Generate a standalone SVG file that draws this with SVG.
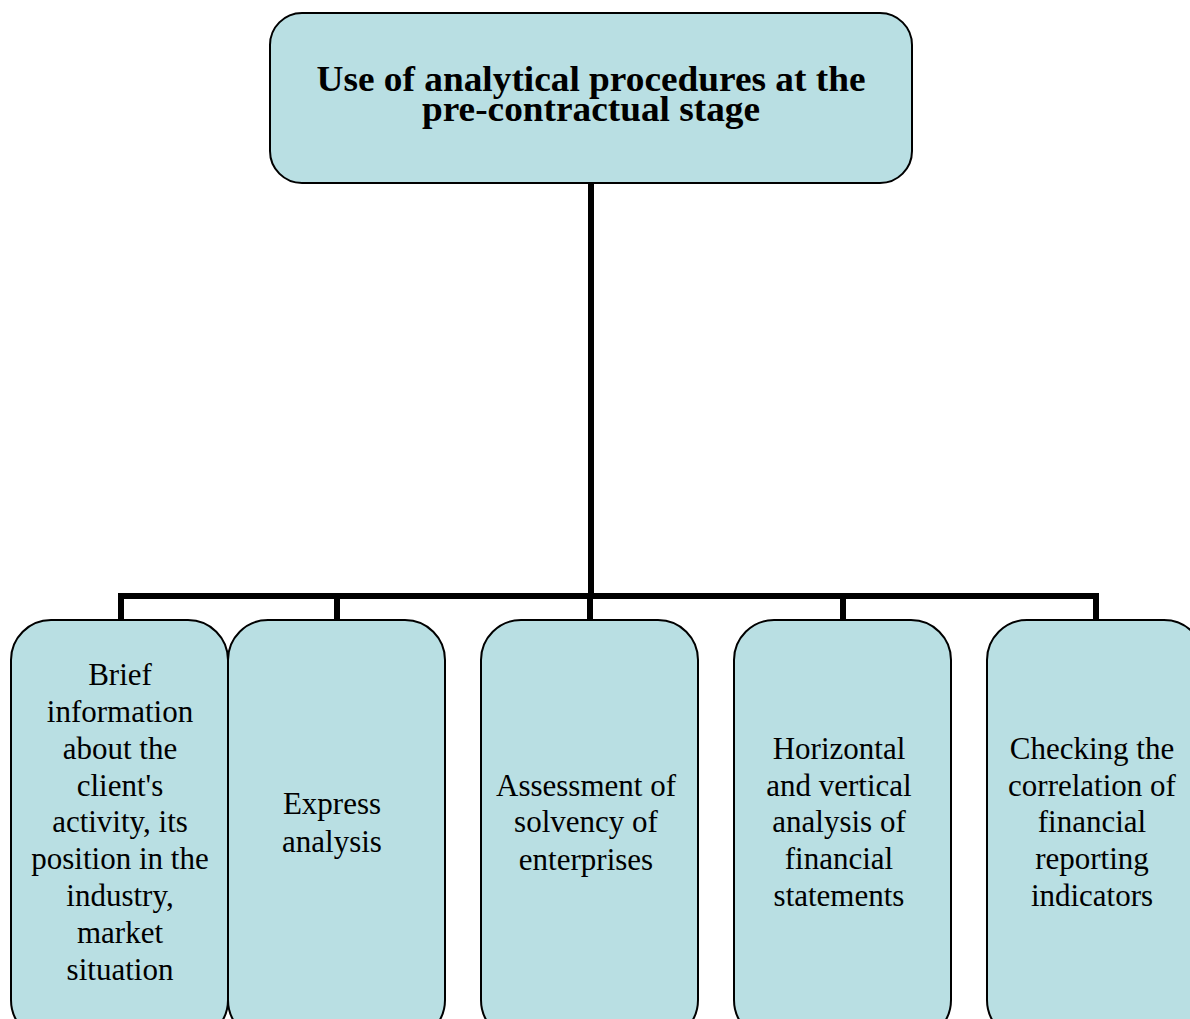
<svg xmlns="http://www.w3.org/2000/svg" width="1190" height="1019" viewBox="0 0 1190 1019">
<style>
.box{fill:#b9dfe3;stroke:#000;stroke-width:2}
.t{font-family:"Liberation Serif","Times New Roman",serif;font-size:31px;fill:#000;text-anchor:middle}
.h{font-family:"Liberation Serif","Times New Roman",serif;font-size:35px;font-weight:bold;fill:#000;text-anchor:middle}
.c{fill:none;stroke:#000;stroke-width:6;stroke-linecap:square}
</style>
<rect width="1190" height="1019" fill="#fff"/>
<g id="connectors">
<path class="c" d="M591,185 V595"/>
<path class="c" d="M121,618 V596 H1096 V618"/>
<path class="c" d="M337,596 V618"/>
<path class="c" d="M590,596 V618"/>
<path class="c" d="M843,596 V618"/>
</g>
<g id="top">
<rect class="box" x="270" y="13" width="642" height="170" rx="32"/>
<text class="h" x="591" y="91" textLength="549" lengthAdjust="spacingAndGlyphs">Use of analytical procedures at the</text>
<text class="h" x="591" y="121" textLength="338" lengthAdjust="spacingAndGlyphs">pre-contractual stage</text>
</g>
<g id="n1">
<rect class="box" x="11" y="620" width="217" height="420" rx="40"/>
<text class="t"><tspan x="120" y="685">Brief</tspan><tspan x="120" y="722">information</tspan><tspan x="120" y="759">about the</tspan><tspan x="120" y="796">client's</tspan><tspan x="120" y="832">activity, its</tspan><tspan x="120" y="869">position in the</tspan><tspan x="120" y="906">industry,</tspan><tspan x="120" y="943">market</tspan><tspan x="120" y="980">situation</tspan></text>
</g>
<g id="n2">
<rect class="box" x="228" y="620" width="217" height="420" rx="40"/>
<text class="t"><tspan x="332" y="814">Express</tspan><tspan x="332" y="852">analysis</tspan></text>
</g>
<g id="n3">
<rect class="box" x="481" y="620" width="217" height="420" rx="40"/>
<text class="t"><tspan x="586" y="796">Assessment of</tspan><tspan x="586" y="832">solvency of</tspan><tspan x="586" y="870">enterprises</tspan></text>
</g>
<g id="n4">
<rect class="box" x="734" y="620" width="217" height="420" rx="40"/>
<text class="t"><tspan x="839" y="759">Horizontal</tspan><tspan x="839" y="796">and vertical</tspan><tspan x="839" y="832">analysis of</tspan><tspan x="839" y="869">financial</tspan><tspan x="839" y="906">statements</tspan></text>
</g>
<g id="n5">
<rect class="box" x="987" y="620" width="217" height="420" rx="40"/>
<text class="t"><tspan x="1092" y="759">Checking the</tspan><tspan x="1092" y="796">correlation of</tspan><tspan x="1092" y="832">financial</tspan><tspan x="1092" y="869">reporting</tspan><tspan x="1092" y="906">indicators</tspan></text>
</g>
</svg>
